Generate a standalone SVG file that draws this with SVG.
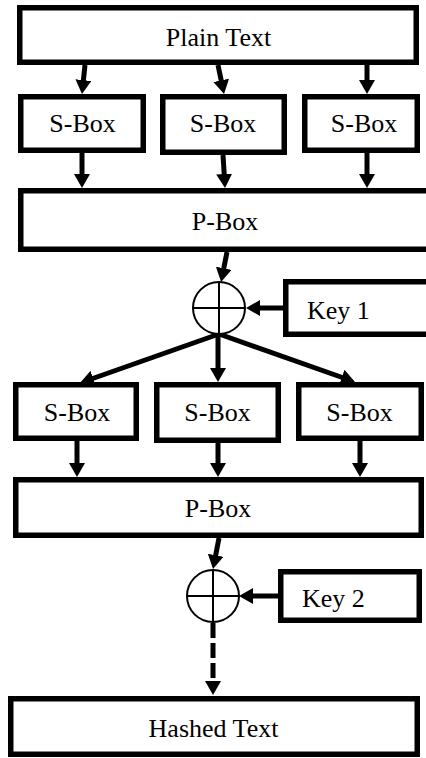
<svg xmlns="http://www.w3.org/2000/svg" width="426" height="758" viewBox="0 0 426 758">
<style>
.box{fill:#fff;stroke:#000;stroke-width:5.5}
.lbl{font-family:"Liberation Serif","Times New Roman",serif;font-size:26px;fill:#000}
.c{text-anchor:middle}
.xor{fill:#fff;stroke:#000;stroke-width:2}
.arr{stroke:#000;stroke-width:5;fill:none;marker-end:url(#ah)}
.dash{stroke-dasharray:15 5}
</style>
<defs>
<marker id="ah" markerUnits="userSpaceOnUse" markerWidth="14" markerHeight="16" viewBox="0 0 14 16" refX="2" refY="8" orient="auto">
<path d="M0,0 L14,8 L0,16 z" fill="#000"/>
</marker>
</defs>
<rect width="426" height="758" fill="#fff"/>
<g id="connectors">
<line class="arr" x1="85" y1="65" x2="83.2" y2="82.1"/>
<line class="arr" x1="218" y1="65" x2="221.6" y2="82.3"/>
<line class="arr" x1="367" y1="65" x2="367" y2="82"/>
<line class="arr" x1="82" y1="153" x2="82" y2="176"/>
<line class="arr" x1="223" y1="155" x2="224.3" y2="176"/>
<line class="arr" x1="367" y1="153" x2="367" y2="176"/>
<line class="arr" x1="227" y1="252" x2="223.4" y2="270.2"/>
<line class="arr" x1="283" y1="308" x2="258" y2="308"/>
<line class="arr" x1="219" y1="334" x2="91.3" y2="379"/>
<line class="arr" x1="218" y1="334" x2="218" y2="370"/>
<line class="arr" x1="219" y1="334" x2="343.7" y2="378"/>
<line class="arr" x1="77" y1="441" x2="77" y2="465"/>
<line class="arr" x1="218" y1="443" x2="218" y2="465"/>
<line class="arr" x1="360" y1="441" x2="360" y2="465"/>
<line class="arr" x1="219" y1="538" x2="215.3" y2="557.2"/>
<line class="arr" x1="278" y1="596" x2="251" y2="596"/>
<line class="arr dash" x1="213" y1="623" x2="213" y2="683"/>
</g>
<g id="plain-text">
<rect class="box" x="19.75" y="7.75" width="396.5" height="54.5"/>
<text class="lbl c" x="218.5" y="46">Plain Text</text>
</g>
<g id="sbox-1-1">
<rect class="box" x="20.75" y="96.75" width="122.5" height="53.5"/>
<text class="lbl c" x="82.5" y="132">S-Box</text>
</g>
<g id="sbox-1-2">
<rect class="box" x="162.75" y="96.75" width="121.5" height="55.5"/>
<text class="lbl c" x="223" y="132">S-Box</text>
</g>
<g id="sbox-1-3">
<rect class="box" x="304.75" y="96.75" width="112.5" height="53.5"/>
<text class="lbl c" x="364" y="132">S-Box</text>
</g>
<g id="pbox-1">
<rect class="box" x="20.75" y="190.75" width="412" height="58.5"/>
<text class="lbl c" x="225" y="230">P-Box</text>
</g>
<g id="xor-1">
<circle class="xor" cx="219" cy="308" r="26"/>
<line x1="193" y1="308" x2="245" y2="308" stroke="#000" stroke-width="2"/>
<line x1="219" y1="282" x2="219" y2="334" stroke="#000" stroke-width="2"/>
</g>
<g id="key-1">
<rect class="box" x="285.75" y="281.75" width="150" height="52.5"/>
<text class="lbl" x="307" y="319">Key 1</text>
</g>
<g id="sbox-2-1">
<rect class="box" x="15.75" y="384.75" width="120.5" height="53.5"/>
<text class="lbl c" x="77" y="421">S-Box</text>
</g>
<g id="sbox-2-2">
<rect class="box" x="156.75" y="384.75" width="121.5" height="55.5"/>
<text class="lbl c" x="217.5" y="421">S-Box</text>
</g>
<g id="sbox-2-3">
<rect class="box" x="298.75" y="384.75" width="122.5" height="53.5"/>
<text class="lbl c" x="359.5" y="421">S-Box</text>
</g>
<g id="pbox-2">
<rect class="box" x="15.75" y="479.75" width="405.5" height="55.5"/>
<text class="lbl c" x="218" y="517">P-Box</text>
</g>
<g id="xor-2">
<circle class="xor" cx="213" cy="596" r="26"/>
<line x1="187" y1="596" x2="239" y2="596" stroke="#000" stroke-width="2"/>
<line x1="213" y1="570" x2="213" y2="622" stroke="#000" stroke-width="2"/>
</g>
<g id="key-2">
<rect class="box" x="280.75" y="571.75" width="138.5" height="48.5"/>
<text class="lbl" x="302" y="607">Key 2</text>
</g>
<g id="hashed-text">
<rect class="box" x="10.75" y="698.75" width="406.5" height="55.5"/>
<text class="lbl c" x="213.5" y="737">Hashed Text</text>
</g>
</svg>
